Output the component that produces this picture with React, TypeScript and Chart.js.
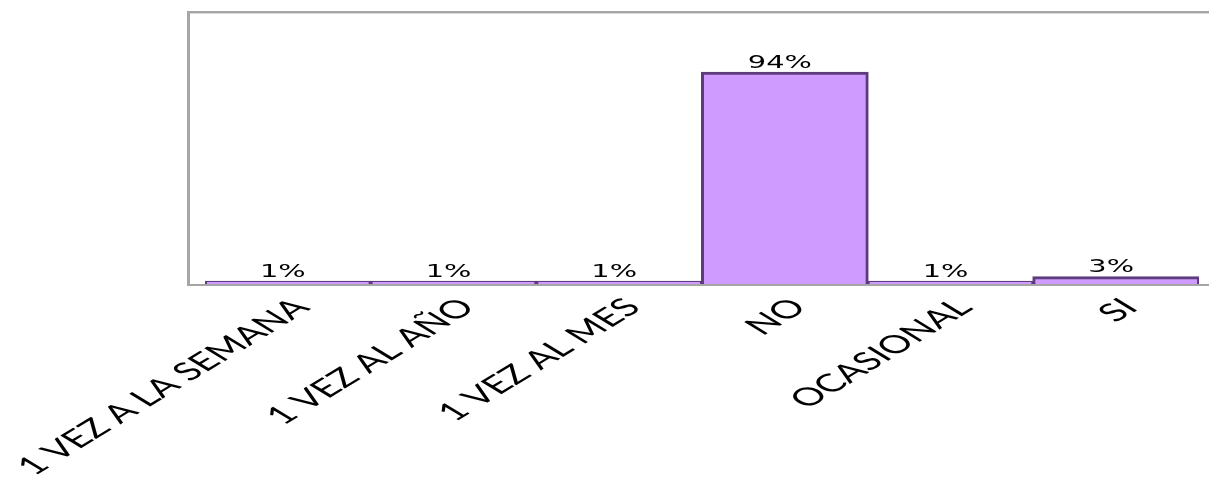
import React, { useEffect, useRef } from "react";
import { Chart, registerables } from "chart.js";

Chart.register(...registerables);

const categories = ["1 VEZ A LA SEMANA", "1 VEZ AL AÑO", "1 VEZ AL MES", "NO", "OCASIONAL", "SI"];
const percentValues = [1, 1, 1, 94, 1, 3];
const valueLabels = ["1%", "1%", "1%", "94%", "1%", "3%"];

const frameColor = "#A6A6A6";
const stretchX = 1.65;

const framePlugin = {
  id: "frame",
  afterDatasetsDraw(chart: any) {
    const { ctx, chartArea } = chart;
    ctx.save();
    const left = chartArea.left - 18;
    const right = chart.width;
    ctx.fillStyle = frameColor;
    ctx.fillRect(left, chartArea.top - 1, 3, chartArea.bottom - chartArea.top + 3);
    ctx.fillRect(left, chartArea.top - 1, right - left, 2);
    ctx.fillStyle = "#D9D9D9";
    ctx.fillRect(left + 3, chartArea.top + 1, right - left, 1);
    ctx.fillStyle = frameColor;
    ctx.fillRect(left, chartArea.bottom, right - left, 2);
    ctx.restore();
  },
};

const valueLabelPlugin = {
  id: "valueLabels",
  afterDatasetsDraw(chart: any) {
    const { ctx } = chart;
    const meta = chart.getDatasetMeta(0);
    ctx.save();
    ctx.font = "18px 'DejaVu Sans'";
    ctx.fillStyle = "#000000";
    ctx.textAlign = "center";
    ctx.textBaseline = "alphabetic";
    meta.data.forEach((bar: any, i: number) => {
      ctx.save();
      ctx.translate(bar.x - 5, bar.y - 5);
      ctx.scale(1.6, 1);
      ctx.fillText(valueLabels[i], 0, 0);
      ctx.restore();
    });
    ctx.restore();
  },
};

const categoryLabelPlugin = {
  id: "categoryLabels",
  afterDraw(chart: any) {
    const { ctx, chartArea } = chart;
    const xScale = chart.scales.x;
    ctx.save();
    ctx.font = "25px Lato";
    ctx.fillStyle = "#000000";
    ctx.textAlign = "right";
    ctx.textBaseline = "middle";
    categories.forEach((label, i) => {
      const x = xScale.getPixelForTick(i) + 14;
      const y = chartArea.bottom + 19;
      ctx.save();
      ctx.translate(x, y);
      ctx.scale(stretchX, 1);
      ctx.rotate(-Math.PI / 4);
      ctx.fillText(label, 0, 0);
      ctx.restore();
    });
    ctx.restore();
  },
};

export default function App() {
  const canvasRef = useRef<HTMLCanvasElement>(null);

  useEffect(() => {
    const canvas = canvasRef.current;
    if (!canvas) return;
    const chart = new Chart(canvas, {
      type: "bar",
      data: {
        labels: categories,
        datasets: [
          {
            data: percentValues,
            backgroundColor: "#D09BFF",
            borderColor: "#5C3C7C",
            borderWidth: 3,
            inflateAmount: 1,
            barPercentage: 1,
            categoryPercentage: 1,
          },
        ],
      },
      options: {
        responsive: false,
        animation: false,
        layout: { padding: { left: 205, right: 10, top: 12, bottom: 0 } },
        plugins: {
          legend: { display: false },
          tooltip: { enabled: false },
        },
        scales: {
          y: {
            display: false,
            min: 0,
            max: 121,
          },
          x: {
            grid: { display: false, drawTicks: false },
            border: { display: false },
            ticks: { display: false },
            afterFit: (scale: any) => {
              scale.height = 483 - 284;
            },
          },
        },
      },
      plugins: [framePlugin, valueLabelPlugin, categoryLabelPlugin],
    });
    return () => chart.destroy();
  }, []);

  return (
    <div style={{ position: "absolute", left: 0, top: 0, width: 1209, height: 483, background: "#fff" }}>
      <canvas ref={canvasRef} width={1209} height={483} />
    </div>
  );
}
